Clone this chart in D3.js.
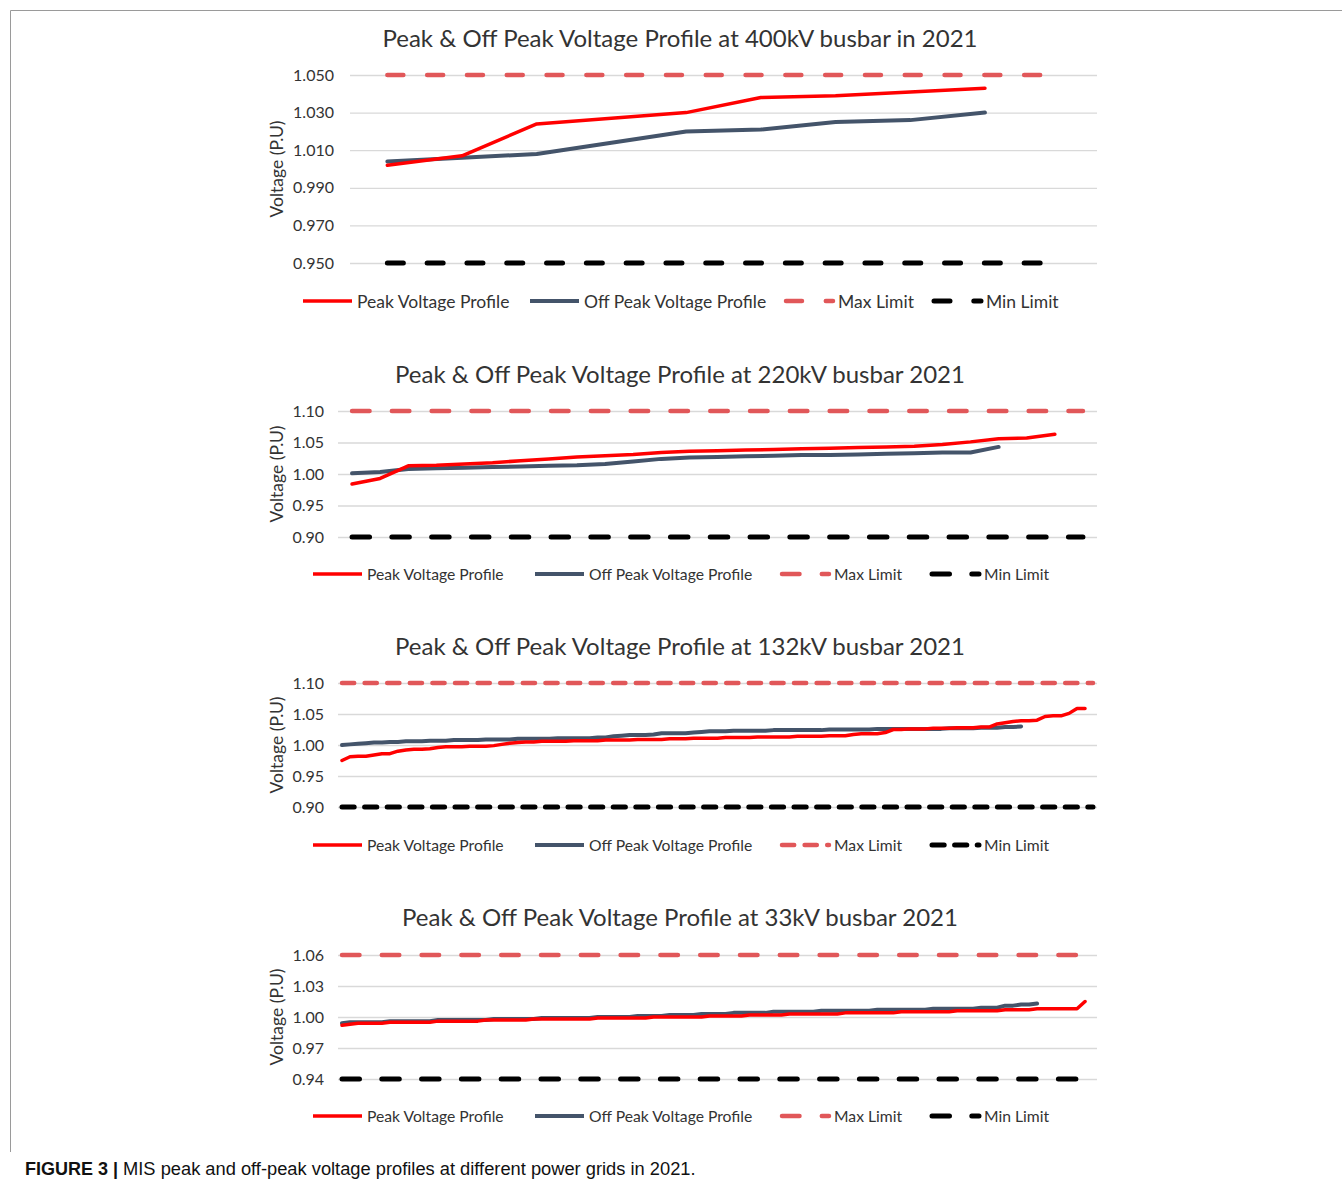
<!DOCTYPE html>
<html>
<head>
<meta charset="utf-8">
<script src="https://cdn.jsdelivr.net/npm/d3@7/dist/d3.min.js"></script>
<style>
  body { margin: 0; background: #fff; }
  svg { display: block; }
  text { font-family: Lato, "Open Sans", sans-serif; fill: #333; }
</style>
</head>
<body>
<svg></svg>
<script>
/*
*  DATA
*/

let titles = [
  'Peak & Off Peak Voltage Profile at 400kV busbar in 2021',
  'Peak & Off Peak Voltage Profile at 220kV busbar 2021',
  'Peak & Off Peak Voltage Profile at 132kV busbar 2021',
  'Peak & Off Peak Voltage Profile at 33kV busbar 2021'
]
let seriesNames = ['Peak Voltage Profile', 'Off Peak Voltage Profile', 'Max Limit', 'Min Limit']
let yTitle = 'Voltage (P.U)'
let caption = 'MIS peak and off-peak voltage profiles at different power grids in 2021.'

// number of categories (buses) on each x axis
let cats400 = 10, cats220 = 27, cats132 = 95, cats33 = 95

let ticks400 = [0.950, 0.970, 0.990, 1.010, 1.030, 1.050]
let ticks220 = [0.90, 0.95, 1.00, 1.05, 1.10]
let ticks132 = [0.90, 0.95, 1.00, 1.05, 1.10]
let ticks33 = [0.94, 0.97, 1.00, 1.03, 1.06]

let limits400 = [1.050, 0.950]
let limits220 = [1.10, 0.90]
let limits132 = [1.10, 0.90]
let limits33 = [1.06, 0.94]

let peak400 = [1.002, 1.007, 1.024, 1.027, 1.030, 1.038, 1.039, 1.041, 1.043]
let offPeak400 = [1.004, 1.006, 1.008, 1.014, 1.020, 1.021, 1.025, 1.026, 1.030]

let peak220 = [0.984, 0.993, 1.013, 1.014, 1.016, 1.018, 1.021, 1.024, 1.027, 1.029,
  1.031, 1.034, 1.036, 1.037, 1.038, 1.039, 1.040, 1.041, 1.042, 1.043,
  1.044, 1.047, 1.051, 1.056, 1.057, 1.063]
let offPeak220 = [1.001, 1.003, 1.008, 1.009, 1.010, 1.011, 1.012, 1.013, 1.014, 1.016,
  1.020, 1.024, 1.026, 1.027, 1.028, 1.029, 1.030, 1.030, 1.031, 1.032,
  1.033, 1.034, 1.034, 1.043]

let peak132 = [0.975, 0.981, 0.982, 0.982, 0.984, 0.986, 0.986, 0.990, 0.992, 0.993,
  0.993, 0.994, 0.996, 0.997, 0.997, 0.997, 0.998, 0.998, 0.998, 0.999,
  1.001, 1.003, 1.004, 1.005, 1.005, 1.006, 1.006, 1.006, 1.006, 1.007,
  1.007, 1.007, 1.007, 1.008, 1.008, 1.008, 1.008, 1.009, 1.009, 1.009,
  1.009, 1.010, 1.010, 1.010, 1.011, 1.011, 1.011, 1.011, 1.012, 1.012,
  1.012, 1.012, 1.013, 1.013, 1.013, 1.013, 1.013, 1.014, 1.014, 1.014,
  1.014, 1.015, 1.015, 1.015, 1.017, 1.018, 1.018, 1.018, 1.020, 1.025,
  1.025, 1.026, 1.026, 1.026, 1.027, 1.027, 1.027, 1.028, 1.028, 1.028,
  1.029, 1.029, 1.034, 1.036, 1.038, 1.039, 1.039, 1.040, 1.046, 1.047,
  1.047, 1.051, 1.059, 1.059]
let offPeak132 = [1.000, 1.001, 1.002, 1.003, 1.004, 1.004, 1.005, 1.005, 1.006, 1.006,
  1.006, 1.007, 1.007, 1.007, 1.008, 1.008, 1.008, 1.008, 1.009, 1.009,
  1.009, 1.009, 1.010, 1.010, 1.010, 1.010, 1.010, 1.011, 1.011, 1.011,
  1.011, 1.011, 1.012, 1.012, 1.014, 1.015, 1.016, 1.016, 1.016, 1.017,
  1.019, 1.019, 1.019, 1.019, 1.020, 1.021, 1.022, 1.022, 1.022, 1.023,
  1.023, 1.023, 1.023, 1.023, 1.024, 1.024, 1.024, 1.024, 1.024, 1.024,
  1.024, 1.025, 1.025, 1.025, 1.025, 1.025, 1.025, 1.026, 1.026, 1.026,
  1.026, 1.026, 1.026, 1.026, 1.026, 1.026, 1.027, 1.027, 1.027, 1.027,
  1.028, 1.028, 1.028, 1.029, 1.029, 1.030]

let peak33 = [0.992, 0.993, 0.994, 0.994, 0.994, 0.994, 0.995, 0.995, 0.995, 0.995,
  0.995, 0.995, 0.996, 0.996, 0.996, 0.996, 0.996, 0.996, 0.997, 0.997,
  0.997, 0.997, 0.997, 0.997, 0.998, 0.998, 0.998, 0.998, 0.998, 0.998,
  0.998, 0.998, 0.999, 0.999, 0.999, 0.999, 0.999, 0.999, 0.999, 1.000,
  1.000, 1.000, 1.000, 1.000, 1.000, 1.000, 1.001, 1.001, 1.001, 1.001,
  1.001, 1.002, 1.002, 1.002, 1.002, 1.002, 1.003, 1.003, 1.003, 1.003,
  1.003, 1.003, 1.003, 1.004, 1.004, 1.004, 1.004, 1.004, 1.004, 1.004,
  1.005, 1.005, 1.005, 1.005, 1.005, 1.005, 1.005, 1.006, 1.006, 1.006,
  1.006, 1.006, 1.006, 1.007, 1.007, 1.007, 1.007, 1.008, 1.008, 1.008,
  1.008, 1.008, 1.008, 1.015]
let offPeak33 = [0.994, 0.995, 0.995, 0.995, 0.995, 0.995, 0.996, 0.996, 0.996, 0.996,
  0.996, 0.996, 0.997, 0.997, 0.997, 0.997, 0.997, 0.997, 0.997, 0.998,
  0.998, 0.998, 0.998, 0.998, 0.998, 0.999, 0.999, 0.999, 0.999, 0.999,
  0.999, 0.999, 1.000, 1.000, 1.000, 1.000, 1.000, 1.001, 1.001, 1.001,
  1.001, 1.002, 1.002, 1.002, 1.002, 1.003, 1.003, 1.003, 1.003, 1.004,
  1.004, 1.004, 1.004, 1.004, 1.005, 1.005, 1.005, 1.005, 1.005, 1.005,
  1.006, 1.006, 1.006, 1.006, 1.006, 1.006, 1.006, 1.007, 1.007, 1.007,
  1.007, 1.007, 1.007, 1.007, 1.008, 1.008, 1.008, 1.008, 1.008, 1.008,
  1.009, 1.009, 1.009, 1.011, 1.011, 1.012, 1.012, 1.013]


/*
*  RUN
*/

let width = 1342,
    height = 1186

let colors = {
  peak: '#ff0000',
  offPeak: '#44546a',
  max: '#e15759',
  min: '#000000',
  grid: '#d9d9d9'
}

let svg = d3.select('svg')
  .attr('width', width)
  .attr('height', height)

svg.append('rect')
  .attr('width', width)
  .attr('height', height)
  .attr('fill', '#fff')

// frame around the figure
svg.append('path')
  .attr('d', 'M10.5,1152 V10.5 H1342')
  .attr('fill', 'none')
  .attr('stroke', '#9a9a9a')
  .attr('stroke-width', 1)

let panels = [
  { title: titles[0], cats: cats400, ticks: ticks400, fmt: '.3f', limits: limits400, peak: peak400, offPeak: offPeak400,
    top: 75, bottom: 263, left: 350, titleY: 37, tickX: 334, legendY: 301, legendX: [303, 530, 784, 932],
    legendFont: 17.5, dash: '16,23.8' },
  { title: titles[1], cats: cats220, ticks: ticks220, fmt: '.2f', limits: limits220, peak: peak220, offPeak: offPeak220,
    top: 411, bottom: 537, left: 338, titleY: 373, tickX: 324, legendY: 574, legendX: [313, 535, 780, 930],
    legendFont: 15.7, dash: '17.5,22.3' },
  { title: titles[2], cats: cats132, ticks: ticks132, fmt: '.2f', limits: limits132, peak: peak132, offPeak: offPeak132,
    top: 683, bottom: 807, left: 338, titleY: 645, tickX: 324, legendY: 845, legendX: [313, 535, 780, 930],
    legendFont: 15.7, dash: '12.2,10.4' },
  { title: titles[3], cats: cats33, ticks: ticks33, fmt: '.2f', limits: limits33, peak: peak33, offPeak: offPeak33,
    top: 955, bottom: 1079, left: 338, titleY: 916, tickX: 324, legendY: 1116, legendX: [313, 535, 780, 930],
    legendFont: 15.7, dash: '17.5,22.3' }
]

panels.forEach(drawPanel)
drawCaption()


/*
*  HELPERS
*/

function drawPanel(p){
  let right = 1097
  let g = svg.append('g').attr('class', 'panel')

  let x = d3.scalePoint()
    .domain(d3.range(p.cats))
    .range([p.left, right])
    .padding(0.5)

  let y = d3.scaleLinear()
    .domain([p.ticks[0], p.ticks[p.ticks.length - 1]])
    .range([p.bottom, p.top])

  // title
  g.append('text')
    .attr('x', 680)
    .attr('y', p.titleY)
    .attr('text-anchor', 'middle')
    .attr('dominant-baseline', 'central')
    .style('font-size', '24px')
    .text(p.title)

  // gridlines + tick labels
  let yAxis = d3.axisLeft(y)
    .tickValues(p.ticks)
    .tickFormat(d3.format(p.fmt))
    .tickSize(-(right - p.left))
    .tickPadding(p.left - p.tickX)

  let ax = g.append('g')
    .attr('transform', `translate(${p.left},0)`)
    .call(yAxis)
  ax.select('.domain').remove()
  ax.selectAll('.tick line').attr('stroke', colors.grid).attr('stroke-width', 1.3)
  ax.selectAll('.tick text')
    .attr('fill', '#333')
    .style('font-family', 'Lato, sans-serif')
    .style('font-size', '16px')

  // axis title
  g.append('text')
    .attr('transform', `translate(276,${(p.top + p.bottom) / 2}) rotate(-90)`)
    .attr('text-anchor', 'middle')
    .attr('dominant-baseline', 'central')
    .style('font-size', '17.5px')
    .text(yTitle)

  let line = d3.line()
    .x((d, i) => x(i))
    .y(d => y(d))

  let limitSeries = p.limits.map(v => x.domain().map(() => v))

  // limits
  g.append('path')
    .datum(limitSeries[0])
    .attr('d', line)
    .attr('fill', 'none')
    .attr('stroke', colors.max)
    .attr('stroke-width', 4.5)
    .attr('stroke-linecap', 'round')
    .attr('stroke-dasharray', p.dash)
  g.append('path')
    .datum(limitSeries[1])
    .attr('d', line)
    .attr('fill', 'none')
    .attr('stroke', colors.min)
    .attr('stroke-width', 5)
    .attr('stroke-linecap', 'round')
    .attr('stroke-dasharray', p.dash)

  // profiles
  g.append('path')
    .datum(p.offPeak)
    .attr('d', line)
    .attr('fill', 'none')
    .attr('stroke', colors.offPeak)
    .attr('stroke-width', 4)
    .attr('stroke-linejoin', 'round')
    .attr('stroke-linecap', 'round')
  g.append('path')
    .datum(p.peak)
    .attr('d', line)
    .attr('fill', 'none')
    .attr('stroke', colors.peak)
    .attr('stroke-width', 3.5)
    .attr('stroke-linejoin', 'round')
    .attr('stroke-linecap', 'round')

  drawLegend(g, p)
}

function drawLegend(g, p){
  let styles = [
    { stroke: colors.peak, w: 3.5, dash: null, cap: 'butt' },
    { stroke: colors.offPeak, w: 4, dash: null, cap: 'butt' },
    { stroke: colors.max, w: 4.5, dash: p.dash, cap: 'round' },
    { stroke: colors.min, w: 5, dash: p.dash, cap: 'round' }
  ]
  let items = g.append('g').attr('class', 'legend')
    .selectAll('g')
    .data(seriesNames)
    .enter()
    .append('g')
    .attr('transform', (d, i) => `translate(${p.legendX[i]},${p.legendY})`)

  items.append('line')
    .attr('x1', (d, i) => styles[i].cap == 'round' ? 2 : 0)
    .attr('x2', 49)
    .attr('stroke', (d, i) => styles[i].stroke)
    .attr('stroke-width', (d, i) => styles[i].w)
    .attr('stroke-linecap', (d, i) => styles[i].cap)
    .attr('stroke-dasharray', (d, i) => styles[i].dash)

  items.append('text')
    .attr('x', 54)
    .attr('dominant-baseline', 'central')
    .style('font-size', p.legendFont + 'px')
    .text(d => d)
}

function drawCaption(){
  let t = svg.append('text')
    .attr('x', 25)
    .attr('y', 1175)
    .style('font-family', '"Liberation Sans Narrow", "Liberation Sans", Arial, sans-serif')
    .style('font-size', '18.3px')
    .style('fill', '#111')
  t.append('tspan')
    .style('font-family', '"Liberation Sans", Arial, sans-serif')
    .style('font-weight', 'bold')
    .style('font-size', '18px')
    .text('FIGURE 3 | ')
  t.append('tspan')
    .text(caption)
}
</script>
</body>
</html>
